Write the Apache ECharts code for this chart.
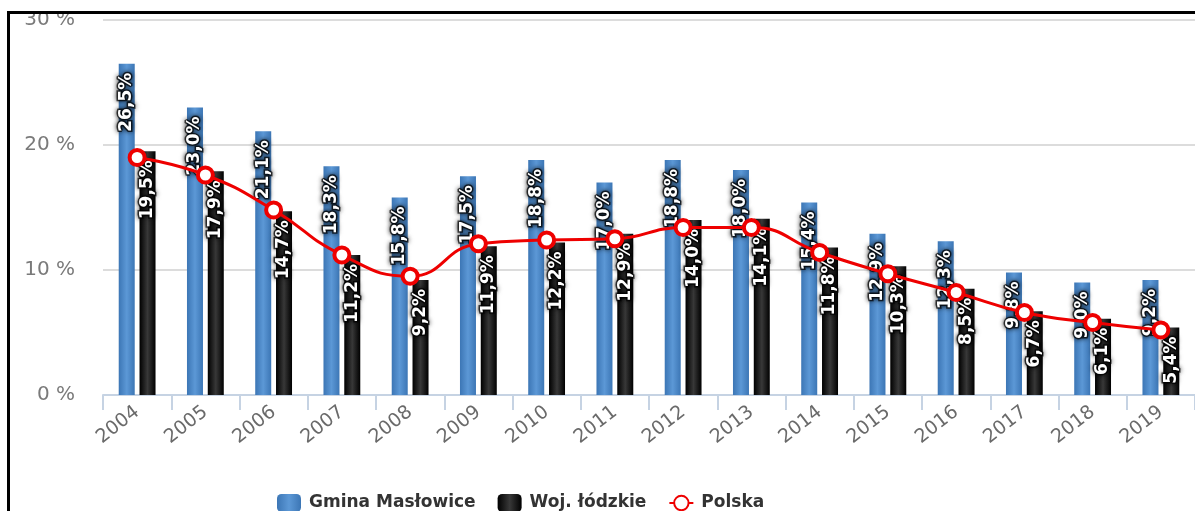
<!DOCTYPE html>
<html><head><meta charset="utf-8">
<script src="https://cdn.jsdelivr.net/npm/echarts@6/dist/echarts.min.js"></script>
<style>
html,body{margin:0;padding:0;background:#fff;overflow:hidden}
#c{width:1195px;height:511px}
#frame{position:absolute;left:7px;top:11px;width:1300px;height:700px;border:3px solid #000;pointer-events:none;box-sizing:border-box}
</style></head><body>
<div id="c"></div><div id="frame"></div>
<script>
const years = ['2004','2005','2006','2007','2008','2009','2010','2011','2012','2013','2014','2015','2016','2017','2018','2019'];
const gmina = [26.5,23.0,21.1,18.3,15.8,17.5,18.8,17.0,18.8,18.0,15.4,12.9,12.3,9.8,9.0,9.2];
const woj = [19.5,17.9,14.7,11.2,9.2,11.9,12.2,12.9,14.0,14.1,11.8,10.3,8.5,6.7,6.1,5.4];
const polska = [19.0,17.6,14.8,11.2,9.5,12.1,12.4,12.5,13.4,13.4,11.4,9.7,8.2,6.6,5.8,5.2];
const seriesNames = ['Gmina Masłowice','Woj. łódzkie','Polska'];

const fmt = p => p.value.toFixed(1).replace('.', ',') + '%';
const barLabel = {
  show: true, position: 'insideTop', rotate: 90, align: 'right', verticalAlign: 'middle',
  distance: 9, formatter: fmt, color: '#fff', fontWeight: 'bold', fontSize: 17,
  fontFamily: 'DejaVu Sans', textBorderColor: 'rgba(0,0,0,0.7)', textBorderWidth: 3,
  textShadowColor: 'rgba(0,0,0,0.8)', textShadowBlur: 5
};
const blueGrad = new echarts.graphic.LinearGradient(0,0,1,0,[
  {offset:0,color:'#3c76b5'},{offset:0.5,color:'#5c98d6'},{offset:1,color:'#3c76b5'}]);
const blackGrad = new echarts.graphic.LinearGradient(0,0,1,0,[
  {offset:0,color:'#000'},{offset:0.5,color:'#383838'},{offset:1,color:'#000'}]);

const chart = echarts.init(document.getElementById('c'));
chart.setOption({
  animation: false,
  grid: {left: 103, right: 0, top: 20, bottom: 116},
  legend: {
    bottom: -6, left: 272, itemWidth: 24, itemHeight: 18, itemGap: 22,
    textStyle: {fontSize: 17, fontWeight: 'bold', color: '#333', fontFamily: 'DejaVu Sans', padding: [0,0,0,3]},
    data: seriesNames
  },
  xAxis: {
    type: 'category', data: years,
    axisLine: {lineStyle: {color: '#c6d3e3', width: 2}},
    axisTick: {show: true, length: 15, lineStyle: {color: '#c6d3e3', width: 2}},
    axisLabel: {rotate: 38, fontSize: 19, color: '#6a6a6a', margin: 15, fontFamily: 'DejaVu Sans'}
  },
  yAxis: {
    type: 'value', min: 0, max: 30, interval: 10,
    axisLabel: {formatter: '{value} %', fontSize: 20, color: '#7a7a7a', margin: 28, fontFamily: 'DejaVu Sans'},
    splitLine: {lineStyle: {color: '#dcdcdc', width: 2}},
    axisLine: {show: false}, axisTick: {show: false}
  },
  series: [
    {name: seriesNames[0], type: 'bar', data: gmina, barWidth: 16, barGap: '30%',
     itemStyle: {color: blueGrad}, label: barLabel, z: 2},
    {name: seriesNames[1], type: 'bar', data: woj, barWidth: 16,
     itemStyle: {color: blackGrad}, label: barLabel, z: 2},
    {name: seriesNames[2], type: 'line', data: polska, smooth: true, z: 5,
     symbol: 'circle', symbolSize: 15,
     lineStyle: {color: '#ee0000', width: 3},
     itemStyle: {color: '#fff', borderColor: '#ee0000', borderWidth: 4}}
  ]
});
</script>
</body></html>
